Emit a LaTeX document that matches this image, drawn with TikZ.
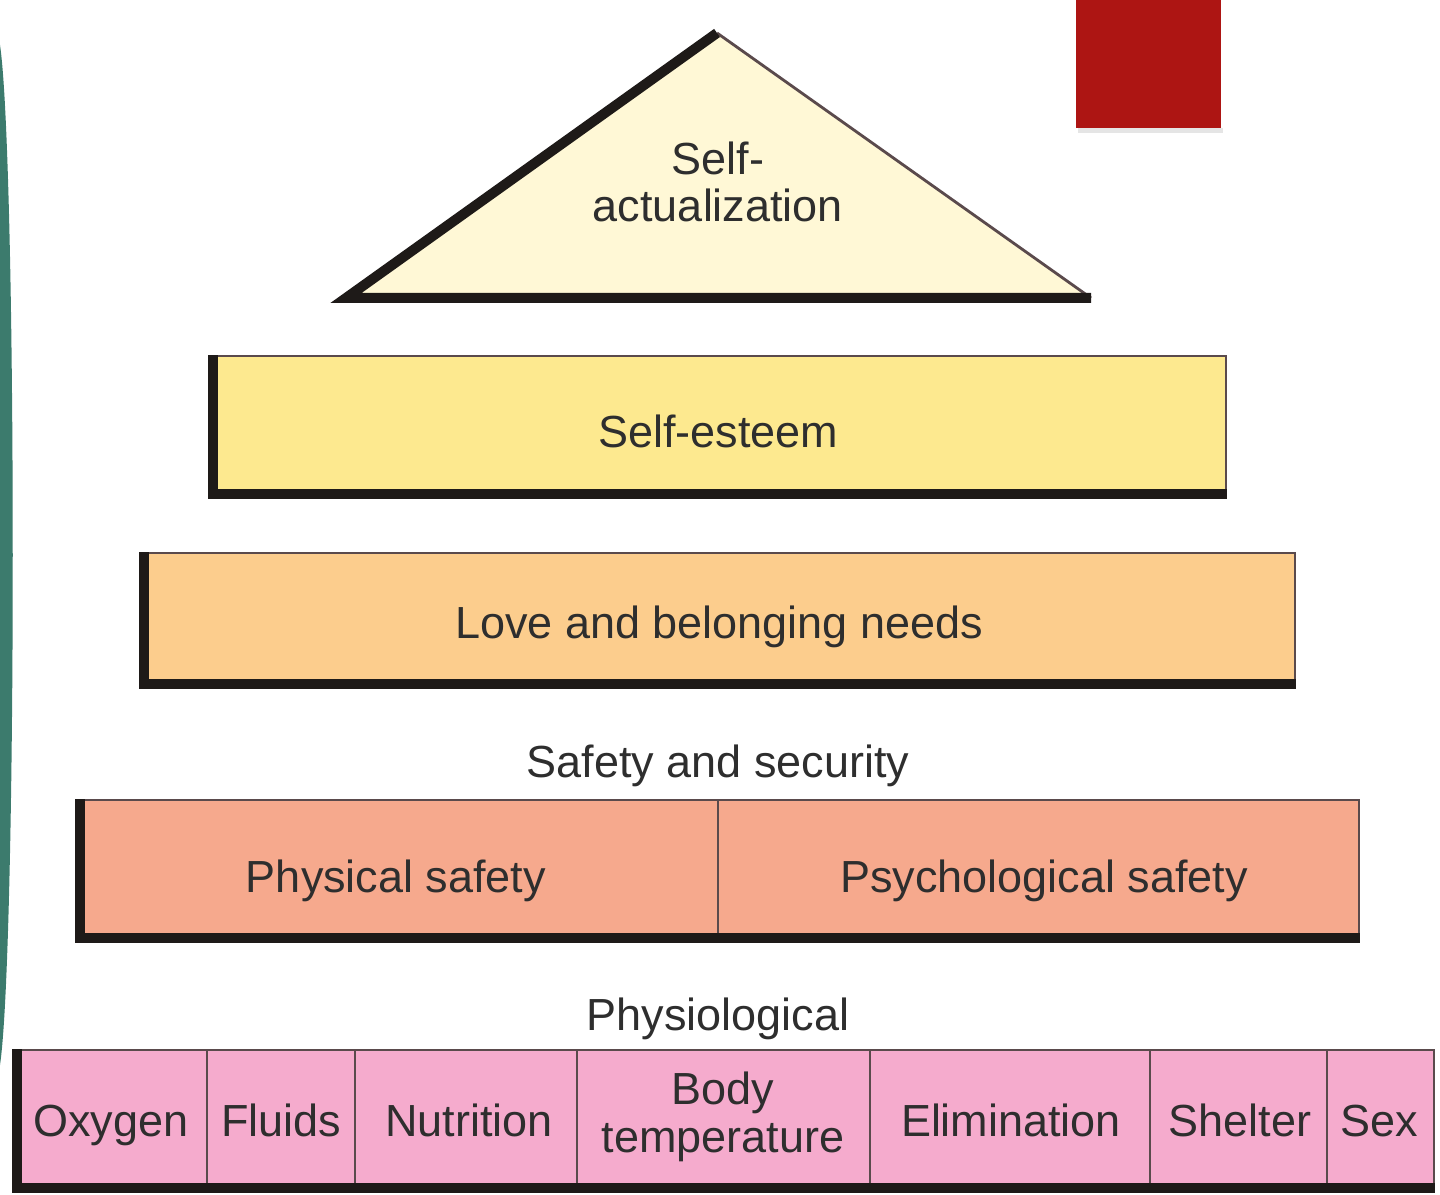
\documentclass[tikz,border=0pt]{standalone}
\usepackage{fontspec}
\setmainfont{Liberation Sans}
\definecolor{trifill}{HTML}{FFF8D6}
\definecolor{esteemfill}{HTML}{FDE98F}
\definecolor{lovefill}{HTML}{FCCD8D}
\definecolor{safefill}{HTML}{F6A98D}
\definecolor{physfill}{HTML}{F5ABCD}
\definecolor{darkedge}{HTML}{1E1A18}
\definecolor{thinedge}{HTML}{5A4A4C}
\definecolor{txt}{HTML}{2E2E2E}
\definecolor{slidered}{HTML}{AD1513}
\definecolor{slideteal}{HTML}{3C7B6D}
\tikzset{
  lbl/.style={text=txt, font=\fontsize{12.8}{13.6}\selectfont, align=center, inner sep=0pt, anchor=base},
  tier/.style={draw=thinedge, line width=0.5pt, inner sep=0pt, minimum height=14.2mm},
  heavy/.style={draw=darkedge, line width=1mm, line join=miter},
}
\begin{document}
\begin{tikzpicture}[x=0.1mm, y=-0.1mm]
\useasboundingbox (0,0) rectangle (1440,1195);
% slide decorations
\fill[slideteal] (0,45) .. controls (17,160) and (17,950) .. (0,1065) -- cycle;
\fill[black!10] (1078,128) rectangle (1223,133);
\fill[slidered] (1076,0) rectangle (1221,128);
% top triangle
\coordinate (apex) at (717,33);
\coordinate (tbl) at (346,298);
\coordinate (tbr) at (1091,298);
\fill[trifill] (apex) -- (tbr) -- (tbl) -- cycle;
\draw[thinedge, line width=0.8pt] (apex) -- (tbr);
\draw[heavy] (tbr) -- (tbl) -- (apex);
\node[lbl] (selfact) at (718,222) {Self-\\actualization};
% self-esteem
\node[tier, fill=esteemfill, minimum width=101.7mm] (esteem) at (717.5,427) {};
\draw[heavy] ([xshift=0.5mm]esteem.north west) -- ([shift={(0.5mm,0.5mm)}]esteem.south west) -- ([yshift=0.5mm]esteem.south east);
\node[lbl] (esteemtxt) at (718,448) {Self-esteem};
% love
\node[tier, fill=lovefill, minimum width=115.5mm, minimum height=13.5mm] (love) at (717.5,620.5) {};
\draw[heavy] ([xshift=0.5mm]love.north west) -- ([shift={(0.5mm,0.5mm)}]love.south west) -- ([yshift=0.5mm]love.south east);
\node[lbl] (lovetxt) at (719,638) {Love and belonging needs};
% safety
\node[lbl] (safetitle) at (718,777) {Safety and security};
\node[tier, fill=safefill, minimum width=64.2mm] (physsafe) at (397,871) {};
\node[tier, fill=safefill, minimum width=64.1mm] (psychsafe) at (1038.5,871) {};
\draw[heavy] ([xshift=0.5mm]physsafe.north west) -- ([shift={(0.5mm,0.5mm)}]physsafe.south west) -- ([yshift=0.5mm]psychsafe.south east);
\node[lbl] (physsafetxt) at (396,892) {Physical safety};
\node[lbl] (psychsafetxt) at (1044,892) {Psychological safety};
% physiological
\node[lbl] (phystitle) at (718,1030) {Physiological};
\node[tier, fill=physfill, minimum width=19.4mm] (oxygen) at (110,1121) {};
\node[tier, fill=physfill, minimum width=14.8mm] (fluids) at (281,1121) {};
\node[tier, fill=physfill, minimum width=22.2mm] (nutrition) at (466,1121) {};
\node[tier, fill=physfill, minimum width=29.3mm] (bodytemp) at (723.5,1121) {};
\node[tier, fill=physfill, minimum width=28mm] (elim) at (1010,1121) {};
\node[tier, fill=physfill, minimum width=17.7mm] (shelter) at (1238.5,1121) {};
\node[tier, fill=physfill, minimum width=10.7mm] (sex) at (1380.5,1121) {};
\draw[heavy] ([xshift=0.5mm]oxygen.north west) -- ([shift={(0.5mm,0.5mm)}]oxygen.south west) -- ([yshift=0.5mm]sex.south east);
\node[lbl] (oxygentxt) at (111,1136) {Oxygen};
\node[lbl] (fluidstxt) at (281,1136) {Fluids};
\node[lbl] (nutritiontxt) at (469,1136) {Nutrition};
\node[lbl] (bodytemptxt) at (723,1152) {Body\\temperature};
\node[lbl] (elimtxt) at (1011,1136) {Elimination};
\node[lbl] (sheltertxt) at (1240,1136) {Shelter};
\node[lbl] (sextxt) at (1379,1136) {Sex};
\end{tikzpicture}
\end{document}
